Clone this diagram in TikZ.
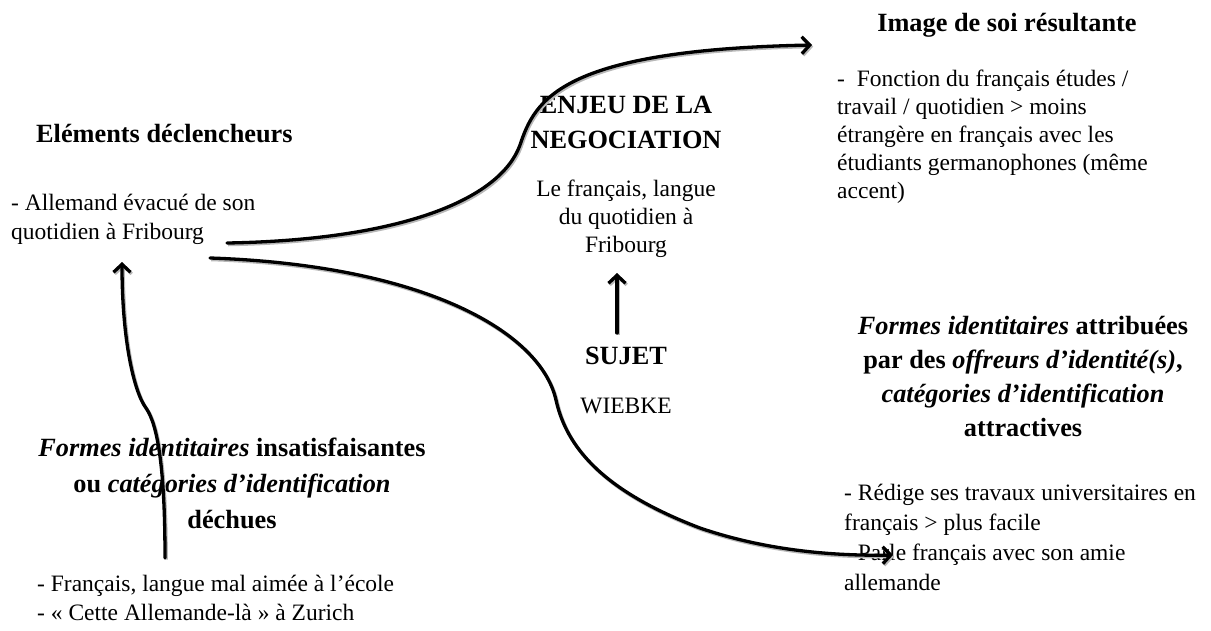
\documentclass[tikz,border=0pt]{standalone}
\usepackage{fontspec}
\setmainfont{Liberation Serif}
\usetikzlibrary{arrows.meta}
\begin{document}
\begin{tikzpicture}[x=1pt,y=-1pt,
  body/.style={inner sep=0pt, font=\fontsize{23.5}{28}\selectfont},
  head/.style={inner sep=0pt, font=\fontsize{26.3}{36}\selectfont\bfseries},
  flow/.style={line width=3.3pt, line cap=round, -{Straight Barb[length=8pt,width=17pt]},
    preaction={draw=black!28, line width=3.3pt, transform canvas={shift={(1.2pt,-1.6pt)}}}},
]
\useasboundingbox (0,0) rectangle (1211,630);

% Eléments déclencheurs
\node[head, anchor=base west] (elh) at (36,142) {Eléments déclencheurs};
\node[body, anchor=base west] (el1) at (11,210) {- Allemand évacué de son};
\node[body, anchor=base west] (el2) at (11,239) {quotidien à Fribourg};

% Enjeu
\node[head, anchor=base] (en1) at (626,113) {ENJEU DE LA};
\node[head, anchor=base] (en2) at (626,148) {NEGOCIATION};
\node[body, anchor=base] (en3) at (626,196) {Le français, langue};
\node[body, anchor=base] (en4) at (626,224) {du quotidien à};
\node[body, anchor=base] (en5) at (626,252) {Fribourg};

% Sujet
\node[head, anchor=base] (su1) at (626,364) {SUJET};
\node[body, anchor=base] (su2) at (626,413) {WIEBKE};

% Image de soi
\node[head, anchor=base] (im1) at (1007,31) {Image de soi résultante};
\node[body, anchor=base west] (im2) at (837,86) {-\ \ Fonction du français études /};
\node[body, anchor=base west] (im3) at (837,114) {travail / quotidien > moins};
\node[body, anchor=base west] (im4) at (837,142) {étrangère en français avec les};
\node[body, anchor=base west] (im5) at (837,170) {étudiants germanophones (même};
\node[body, anchor=base west] (im6) at (837,198) {accent)};

% Formes insatisfaisantes
\node[head, anchor=base] (fi1) at (232,456) {\textit{Formes identitaires} insatisfaisantes};
\node[head, anchor=base] (fi2) at (232,492) {ou \textit{catégories d’identification}};
\node[head, anchor=base] (fi3) at (232,528) {déchues};
\node[body, anchor=base west] (fi4) at (37,591) {- Français, langue mal aimée à l’école};
\node[body, anchor=base west] (fi5) at (37,620) {- « Cette Allemande-là » à Zurich};

% Formes attribuées
\node[head, anchor=base] (fa1) at (1023,334) {\textit{Formes identitaires} attribuées};
\node[head, anchor=base] (fa2) at (1023,368) {par des \textit{offreurs d’identité(s)},};
\node[head, anchor=base] (fa3) at (1023,402) {\textit{catégories d’identification}};
\node[head, anchor=base] (fa4) at (1023,436) {attractives};
\node[body, anchor=base west] (fa5) at (844,500) {- Rédige ses travaux universitaires en};
\node[body, anchor=base west] (fa6) at (844,530) {français > plus facile};
\node[body, anchor=base west] (fa7) at (844,560) {- Parle français avec son amie};
\node[body, anchor=base west] (fa8) at (844,590) {allemande};

% connector end points
\coordinate (c1s) at (227,243);
\coordinate (c1e) at (812,45);
\coordinate (c2s) at (210,258);
\coordinate (c2e) at (893,555);
\coordinate (c3s) at (165,558);
\coordinate (c3e) at (122,262);
\coordinate (c4s) at (617,333);
\coordinate (c4e) at (617,273);

\draw[flow] (c1s) .. controls (400,240) and (500,200) .. (520,145)
                  .. controls (535,100) and (560,50) .. (c1e);
\draw[flow] (c2s) .. controls (420,265) and (540,330) .. (556,400)
                  .. controls (566,445) and (600,490) .. (700,528)
                  .. controls (770,552) and (840,556) .. (c2e);
\draw[flow] (c3s) .. controls (165,470) and (158,425) .. (146,408)
                  .. controls (134,392) and (122,340) .. (c3e);
\draw[flow] (c4s) -- (c4e);
\end{tikzpicture}
\end{document}
